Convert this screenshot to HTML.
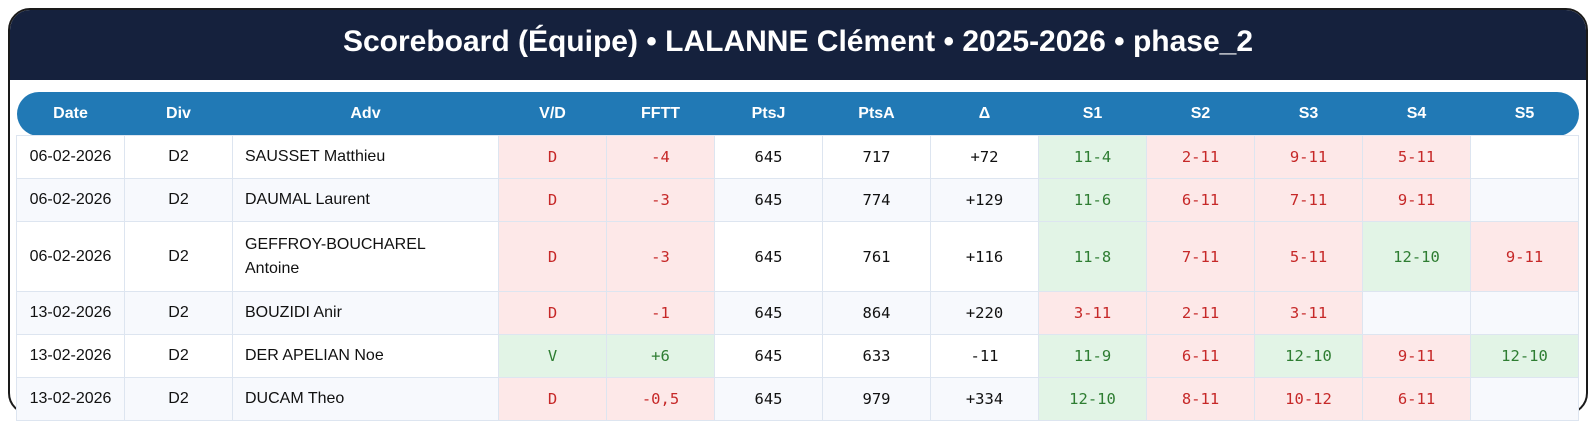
<!DOCTYPE html>
<html><head><meta charset="utf-8"><style>
body{margin:0;width:1594px;height:427px;overflow:hidden;background:#fff;font-family:"Liberation Sans",sans-serif;position:relative}
.card{position:absolute;left:8px;top:8px;width:1576px;height:403px;border:2px solid #1a1a1a;border-radius:22px;overflow:hidden;background:#fff}
.hd{height:70px;background:#15213d;color:#fff;font-weight:bold;font-size:30px;text-align:center;line-height:64px}
table{position:absolute;left:16px;top:92px;border-collapse:collapse;table-layout:fixed;width:1562px;z-index:2}
th{background:#2179b5;color:#fff;font-weight:bold;font-size:16px;height:43px;padding:0}
th:first-child{border-radius:22px 0 0 22px}
th:last-child{border-radius:0 22px 22px 0}
td{border:1px solid #dde5f0;height:42px;padding:0;text-align:center;font-size:16px;color:#111}
tr.t td{height:69px}
tr:nth-child(even) td{background:#f7f9fd}
td.a{text-align:left;padding-left:12px;line-height:24px}
td.m{font-family:"DejaVu Sans Mono",monospace;font-size:15.5px}
td.r{background:#fde8e8!important;color:#c62828}
td.g{background:#e2f4e6!important;color:#2e7d32}
</style></head><body>
<div class="card"><div class="hd">Scoreboard (Équipe) • LALANNE Clément • 2025-2026 • phase_2</div></div>
<table>
<colgroup><col style="width:108px"><col style="width:108px"><col style="width:266px"><col span="11" style="width:108px"></colgroup>
<thead><tr><th>Date</th><th>Div</th><th>Adv</th><th>V/D</th><th>FFTT</th><th>PtsJ</th><th>PtsA</th><th>Δ</th><th>S1</th><th>S2</th><th>S3</th><th>S4</th><th>S5</th></tr></thead>
<tbody>
<tr><td>06-02-2026</td><td>D2</td><td class="a">SAUSSET Matthieu</td><td class="m r">D</td><td class="m r">-4</td><td class="m">645</td><td class="m">717</td><td class="m">+72</td><td class="m g">11-4</td><td class="m r">2-11</td><td class="m r">9-11</td><td class="m r">5-11</td><td></td></tr>
<tr><td>06-02-2026</td><td>D2</td><td class="a">DAUMAL Laurent</td><td class="m r">D</td><td class="m r">-3</td><td class="m">645</td><td class="m">774</td><td class="m">+129</td><td class="m g">11-6</td><td class="m r">6-11</td><td class="m r">7-11</td><td class="m r">9-11</td><td></td></tr>
<tr class="t"><td>06-02-2026</td><td>D2</td><td class="a">GEFFROY-BOUCHAREL<br>Antoine</td><td class="m r">D</td><td class="m r">-3</td><td class="m">645</td><td class="m">761</td><td class="m">+116</td><td class="m g">11-8</td><td class="m r">7-11</td><td class="m r">5-11</td><td class="m g">12-10</td><td class="m r">9-11</td></tr>
<tr><td>13-02-2026</td><td>D2</td><td class="a">BOUZIDI Anir</td><td class="m r">D</td><td class="m r">-1</td><td class="m">645</td><td class="m">864</td><td class="m">+220</td><td class="m r">3-11</td><td class="m r">2-11</td><td class="m r">3-11</td><td></td><td></td></tr>
<tr><td>13-02-2026</td><td>D2</td><td class="a">DER APELIAN Noe</td><td class="m g">V</td><td class="m g">+6</td><td class="m">645</td><td class="m">633</td><td class="m">-11</td><td class="m g">11-9</td><td class="m r">6-11</td><td class="m g">12-10</td><td class="m r">9-11</td><td class="m g">12-10</td></tr>
<tr><td>13-02-2026</td><td>D2</td><td class="a">DUCAM Theo</td><td class="m r">D</td><td class="m r">-0,5</td><td class="m">645</td><td class="m">979</td><td class="m">+334</td><td class="m g">12-10</td><td class="m r">8-11</td><td class="m r">10-12</td><td class="m r">6-11</td><td></td></tr>
</tbody></table>
</body></html>
